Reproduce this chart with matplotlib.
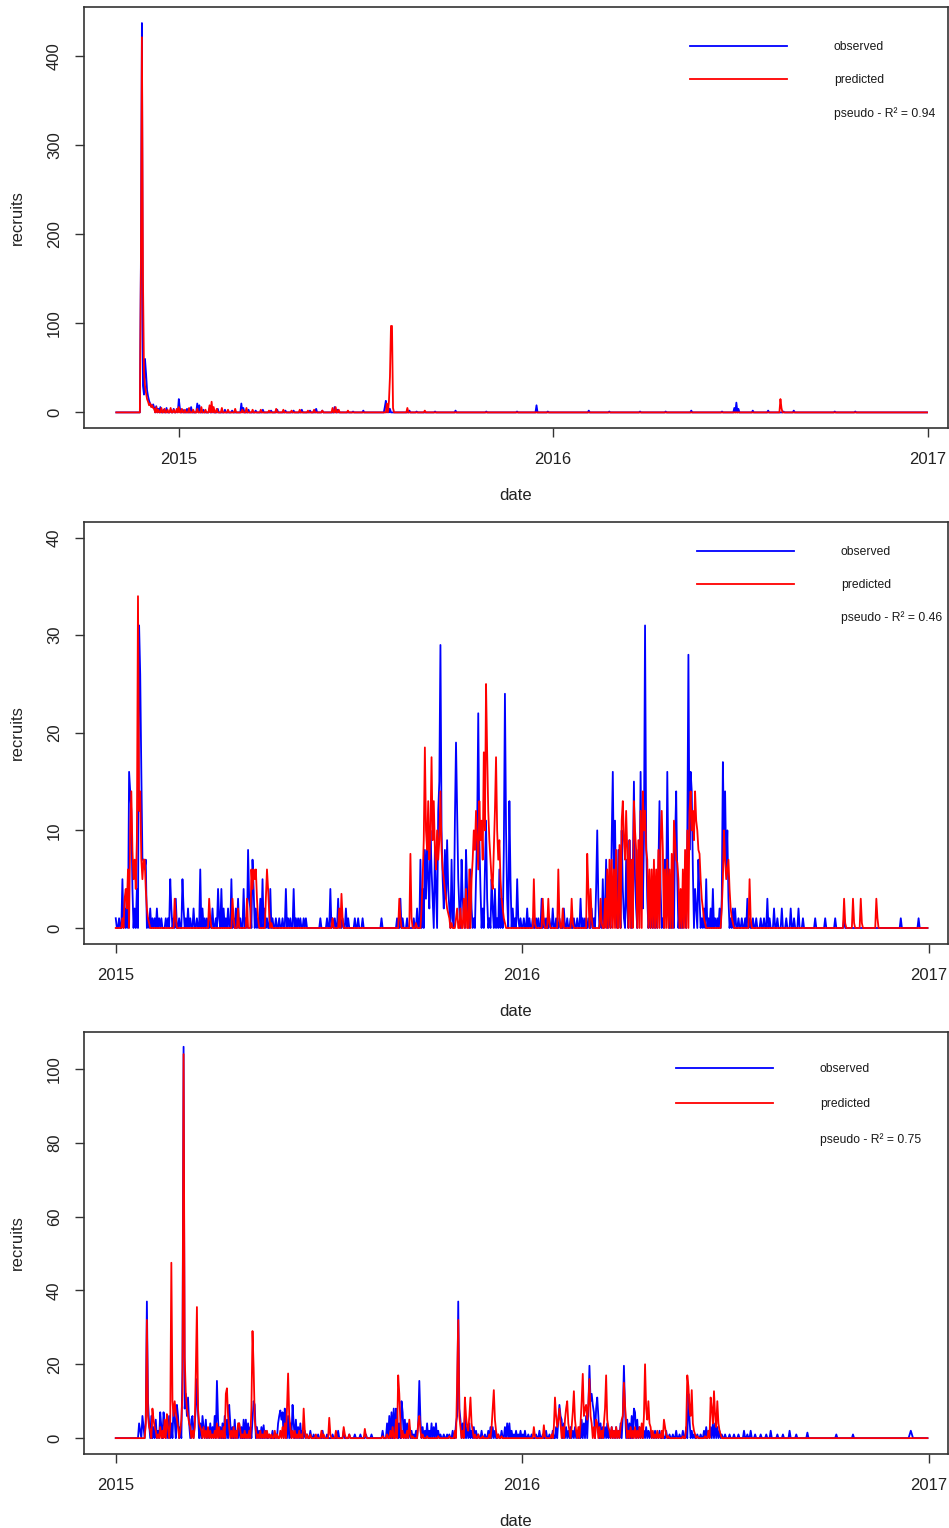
import matplotlib

matplotlib.use("Agg")
import matplotlib.pyplot as plt
import numpy as np
import pandas as pd

plt.rcParams["font.family"] = ["Liberation Sans", "DejaVu Sans"]

# all days are offsets from 2015-01-01, values are daily counts
p1_start = "2014-11-01"
p1_obs = [(-37, 167), (-36, 437), (-35, 30), (-34, 20), (-33, 60), (-32, 44), (-31, 25),
          (-30, 18), (-29, 13), (-28, 10), (-27, 8), (-26, 6), (-25, 9), (-24, 5), (-22, 7),
          (-20, 4), (-18, 6), (-15, 3), (-12, 5), (-8, 3), (-5, 4), (-2, 2), (0, 15), (1, 5),
          (4, 3), (8, 4), (12, 6), (18, 10), (20, 8), (24, 3), (30, 5), (33, 6), (38, 4),
          (45, 3), (52, 2), (61, 10), (63, 5), (68, 3), (75, 2), (82, 3), (90, 2), (96, 3),
          (104, 2), (112, 2), (120, 3), (128, 2), (134, 4), (140, 2), (152, 6), (155, 3),
          (170, 1), (180, 2), (201, 6), (202, 13), (204, 8), (206, 4), (225, 2), (232, 1),
          (250, 1), (270, 2), (300, 1), (330, 1), (349, 8), (360, 1), (400, 2), (420, 1),
          (450, 1), (475, 1), (500, 2), (530, 1), (542, 5), (544, 11), (546, 4), (560, 2),
          (575, 2), (590, 1), (600, 2), (640, 1), (660, 1)]
p1_pred = [(-37, 160), (-36, 421), (-35, 152), (-34, 46), (-33, 30), (-32, 22), (-31, 15),
           (-30, 12), (-29, 8), (-28, 10), (-27, 6), (-26, 8), (-25, 5), (-24, 4), (-22, 6),
           (-20, 3), (-17, 5), (-14, 4), (-11, 3), (-8, 5), (-5, 3), (-2, 4), (0, 6), (3, 4),
           (6, 3), (10, 5), (14, 3), (18, 4), (22, 6), (26, 3), (30, 8), (32, 12), (34, 6),
           (37, 4), (42, 5), (48, 3), (55, 4), (62, 3), (66, 5), (72, 3), (80, 3), (88, 2),
           (95, 4), (102, 3), (110, 2), (118, 3), (126, 2), (132, 3), (140, 2), (150, 5),
           (153, 6), (156, 3), (165, 2), (203, 10), (205, 12), (206, 40), (207, 97), (208, 97),
           (209, 5), (223, 5), (240, 2), (587, 15), (588, 5)]

p2_start = "2015-01-01"
p2_obs = [(0, 1), (3, 1), (6, 5), (8, 2), (10, 4), (12, 16), (13, 14), (14, 12), (15, 4),
          (17, 2), (19, 4), (21, 31), (22, 26), (23, 16), (24, 7), (25, 7), (26, 6), (27, 7),
          (29, 1), (31, 2), (33, 1), (35, 1), (37, 2), (39, 1), (41, 1), (45, 1), (47, 1),
          (49, 5), (50, 2), (52, 1), (54, 3), (57, 1), (60, 5), (61, 2), (63, 1), (65, 2),
          (67, 1), (70, 2), (73, 1), (76, 6), (78, 2), (80, 1), (82, 1), (85, 1), (87, 2),
          (90, 1), (92, 4), (93, 1), (95, 4), (97, 2), (99, 1), (101, 2), (104, 5), (106, 1),
          (108, 2), (110, 3), (112, 1), (115, 4), (117, 1), (119, 8), (120, 3), (121, 2),
          (123, 7), (124, 4), (126, 2), (128, 1), (130, 3), (132, 5), (134, 2), (136, 1),
          (139, 4), (141, 1), (144, 1), (147, 1), (150, 1), (153, 4), (155, 1), (157, 1),
          (160, 4), (162, 1), (164, 1), (166, 1), (169, 1), (171, 1), (184, 1), (190, 1),
          (193, 4), (195, 1), (197, 1), (200, 3), (202, 1), (204, 1), (207, 2), (209, 1),
          (215, 1), (218, 1), (222, 1), (239, 1), (253, 1), (256, 3), (258, 1), (262, 1),
          (268, 1), (271, 2), (274, 7), (276, 4), (278, 8), (279, 3), (280, 9), (281, 5),
          (282, 2), (283, 10), (284, 6), (285, 3), (287, 8), (288, 4), (290, 12), (291, 15),
          (292, 29), (293, 10), (294, 5), (295, 2), (296, 8), (297, 3), (298, 9), (299, 4),
          (300, 2), (302, 7), (303, 1), (305, 11), (306, 19), (307, 12), (308, 5), (309, 2),
          (311, 7), (312, 3), (313, 1), (315, 8), (316, 4), (317, 1), (319, 6), (320, 2),
          (322, 1), (324, 5), (325, 10), (326, 22), (327, 9), (328, 4), (330, 2), (332, 6),
          (333, 11), (334, 3), (336, 1), (338, 5), (339, 2), (341, 4), (343, 1), (345, 6),
          (347, 3), (349, 8), (350, 24), (351, 10), (352, 3), (354, 13), (355, 5), (357, 2),
          (359, 1), (361, 5), (362, 1), (364, 1), (367, 1), (370, 2), (372, 1), (375, 1),
          (378, 1), (380, 1), (383, 3), (385, 1), (387, 1), (390, 1), (393, 2), (396, 1),
          (399, 1), (403, 2), (406, 1), (409, 1), (412, 1), (415, 1), (418, 3), (420, 1),
          (422, 1), (425, 1), (428, 2), (430, 1), (432, 4), (433, 10), (434, 3), (436, 1),
          (438, 5), (440, 2), (441, 7), (443, 3), (444, 1), (446, 9), (447, 16), (448, 5),
          (449, 11), (450, 2), (452, 8), (453, 3), (455, 10), (456, 4), (457, 1), (459, 7),
          (460, 2), (462, 9), (463, 4), (465, 6), (466, 15), (467, 5), (468, 2), (470, 8),
          (471, 3), (472, 16), (473, 6), (474, 2), (475, 9), (476, 31), (477, 9), (478, 3),
          (480, 1), (482, 2), (484, 5), (486, 2), (488, 6), (489, 13), (490, 4), (492, 1),
          (494, 7), (495, 3), (496, 16), (497, 6), (499, 2), (501, 3), (503, 9), (504, 14),
          (505, 5), (507, 2), (509, 1), (511, 4), (512, 1), (514, 9), (515, 28), (516, 8),
          (517, 16), (518, 14), (519, 6), (521, 4), (522, 2), (524, 7), (525, 3), (527, 1),
          (529, 2), (531, 5), (533, 1), (535, 2), (537, 4), (539, 1), (541, 1), (543, 2),
          (545, 3), (546, 17), (547, 9), (548, 14), (549, 6), (550, 10), (551, 3), (553, 1),
          (555, 2), (557, 2), (560, 1), (563, 1), (566, 1), (568, 3), (570, 1), (573, 1),
          (576, 1), (580, 1), (583, 1), (586, 3), (588, 1), (592, 2), (595, 1), (599, 2),
          (603, 1), (607, 2), (610, 1), (614, 2), (618, 1), (629, 1), (638, 1), (647, 1),
          (655, 1), (706, 1), (722, 1)]
p2_pred = [(6, 1), (8, 3), (9, 4), (10, 2), (11, 6), (13, 10), (14, 14), (15, 8), (16, 5),
           (17, 7), (18, 4), (19, 9), (20, 34), (21, 12), (22, 14), (23, 7), (24, 5), (25, 7),
           (26, 7), (27, 4), (28, 2), (29, 1), (30, 0.5), (53, 3), (54, 1), (84, 3), (85, 1),
           (105, 3), (106, 1), (110, 2), (118, 3), (122, 6), (123, 4), (124, 6), (125, 5),
           (126, 6), (127, 3), (128, 1), (135, 3), (136, 6), (137, 4), (138, 1.5), (140, 0.5),
           (195, 1), (201, 2), (203, 3.5), (204, 1), (255, 3), (256, 1), (265, 7.6), (266, 1),
           (270, 0.5), (275, 2), (276, 5), (277, 9), (278, 18.5), (279, 10), (280, 8),
           (281, 13), (282, 7), (283, 10), (284, 17.5), (285, 9), (286, 13), (287, 8), (288, 6),
           (289, 10), (290, 7), (291, 9), (292, 14), (293, 8), (294, 6), (295, 5), (296, 4),
           (297, 3), (298, 2), (299, 1.5), (300, 1), (302, 0.5), (306, 1), (307, 2), (310, 2),
           (313, 3), (315, 4), (318, 6), (320, 5), (321, 7), (322, 10), (323, 8), (324, 12),
           (325, 9), (326, 6), (327, 13), (328, 9), (329, 11), (330, 7), (331, 18), (332, 10),
           (333, 25), (334, 18), (335, 12), (336, 9), (337, 7), (338, 5), (339, 4), (340, 8),
           (341, 12), (342, 17.5), (343, 10), (344, 7), (345, 9), (346, 5), (347, 3), (348, 2),
           (349, 1), (350, 0.5), (376, 5), (377, 0.5), (384, 3), (385, 0.5), (389, 3),
           (390, 0.5), (398, 6), (399, 1), (402, 2), (410, 3), (411, 0.5), (424, 7.6), (425, 4),
           (427, 4), (428, 1), (436, 3), (437, 0.5), (440, 3), (442, 6), (444, 7), (446, 7),
           (448, 6), (450, 8), (453, 8.5), (455, 11), (456, 13), (457, 9), (458, 7), (459, 12),
           (460, 8), (462, 9), (464, 7), (466, 13), (467, 10), (468, 8), (470, 9), (472, 12),
           (474, 14), (475, 10), (476, 12), (477, 8), (478, 7), (480, 6), (482, 6), (484, 7),
           (486, 6), (488, 8), (490, 9), (491, 12), (492, 8), (494, 6), (496, 7), (498, 6),
           (500, 7.6), (502, 11), (503, 9), (504, 7), (505, 6.7), (506, 5), (508, 4), (510, 6),
           (512, 8), (514, 10), (516, 12), (517, 14), (518, 10), (519, 12), (520, 9),
           (521, 14), (522, 11), (523, 10), (524, 8), (525, 7.6), (526, 5), (527, 3), (528, 2),
           (529, 1), (530, 0.5), (545, 2), (546, 5), (547, 10), (548, 7), (549, 5), (550, 6),
           (551, 7), (552, 4), (553, 2), (554, 1), (555, 0.5), (570, 5), (571, 1), (655, 3),
           (656, 0.5), (663, 3), (664, 0.5), (670, 3), (671, 0.5), (684, 3), (685, 1)]

p3_start = "2015-01-01"
p3_obs = [(21, 4), (22, 2), (24, 6), (25, 3), (27, 5), (28, 37), (29, 10), (30, 4), (32, 6),
          (34, 3), (36, 5), (38, 2), (40, 7), (41, 3), (43, 7), (44, 4), (46, 3), (48, 6),
          (50, 4), (52, 9), (53, 5), (55, 9), (56, 6), (58, 3), (60, 19), (61, 106), (62, 8),
          (63, 12), (64, 6), (65, 11), (66, 4), (68, 5), (69, 6), (71, 4), (72, 8), (73, 16),
          (74, 7), (76, 4), (78, 6), (79, 3), (81, 5), (83, 2), (85, 4), (87, 3), (89, 6),
          (91, 15.5), (92, 5), (94, 3), (96, 4), (98, 6), (100, 5), (102, 9), (103, 4), (105, 3),
          (107, 5), (109, 2), (111, 4), (113, 3), (115, 5), (117, 5), (119, 4), (121, 3),
          (123, 5), (124, 10), (125, 9), (127, 3), (129, 2), (131, 3), (133, 3.5), (135, 2),
          (138, 1), (141, 2), (144, 1), (146, 4), (147, 6), (148, 7.5), (149, 5), (150, 7),
          (152, 8), (153, 5), (155, 6), (157, 4), (159, 9), (160, 4), (162, 5), (164, 3),
          (166, 4), (168, 2), (170, 2), (172, 1), (175, 2), (178, 1), (182, 1), (186, 2),
          (190, 1), (195, 1), (200, 2), (205, 2), (210, 1), (215, 1), (220, 1), (225, 1),
          (230, 1), (240, 2), (244, 4), (246, 6), (248, 7), (250, 8), (252, 8), (253, 7),
          (255, 4), (257, 10), (258, 7), (260, 5), (262, 4), (264, 3), (266, 2), (268, 1),
          (270, 2), (272, 4), (273, 15.5), (274, 5), (276, 3), (278, 2), (280, 4), (282, 2),
          (284, 4), (286, 3), (288, 4), (290, 2), (292, 1), (295, 1), (298, 1), (300, 1),
          (303, 2), (306, 4), (307, 6), (308, 37), (309, 8), (310, 5), (312, 4), (314, 6),
          (316, 3), (318, 4), (320, 2), (322, 3), (324, 2), (326, 1), (329, 2), (332, 1),
          (335, 2), (337, 3), (339, 3), (341, 2), (344, 1), (347, 2), (350, 3), (352, 4),
          (354, 4), (356, 2), (358, 1), (360, 2), (362, 1), (364, 2), (366, 1), (368, 2),
          (371, 1), (374, 1), (378, 1), (381, 2), (384, 1), (387, 2), (390, 1), (393, 2),
          (396, 3), (398, 5), (399, 9), (400, 6), (401, 5), (403, 4), (405, 3), (407, 2),
          (409, 3), (411, 2), (413, 3), (415, 2), (417, 3), (419, 5), (421, 4), (423, 6),
          (425, 8), (426, 19.6), (427, 10), (428, 12), (429, 9), (430, 7), (432, 8), (433, 11),
          (434, 6), (436, 4), (438, 3), (440, 3), (442, 4), (444, 2), (446, 3), (448, 2),
          (450, 3), (452, 2), (454, 4), (456, 6), (457, 19.6), (458, 8), (460, 5), (462, 4),
          (464, 6), (466, 8), (467, 7), (469, 5), (471, 3), (473, 2), (475, 2), (477, 3),
          (479, 2), (481, 2), (483, 1), (485, 2), (487, 1), (489, 2), (492, 1), (495, 2),
          (498, 1), (501, 1), (504, 2), (507, 1), (510, 2), (513, 3), (515, 12), (516, 5),
          (518, 2), (520, 1), (523, 1), (526, 1), (529, 2), (531, 3), (533, 2), (535, 3),
          (537, 4), (539, 4), (541, 3), (543, 2), (545, 1), (548, 1), (552, 1), (556, 1),
          (560, 1), (565, 2), (568, 1), (571, 2), (575, 1), (580, 1), (585, 1), (589, 2),
          (595, 1), (600, 1), (606, 2), (612, 1), (622, 1.5), (648, 1), (663, 1), (714, 1),
          (715, 2), (716, 1)]
p3_pred = [(27, 4), (28, 32), (29, 6), (30, 3), (31, 2), (33, 8), (34, 5), (35, 3), (36, 2),
           (38, 1), (40, 3), (42, 2), (44, 5), (46, 6.5), (47, 3), (49, 4), (50, 47.5), (51, 10),
           (52, 6), (53, 10), (54, 7), (55, 5), (56, 3), (58, 2), (59, 5), (60, 12), (61, 104),
           (62, 22), (63, 12), (64, 8), (65, 6), (66, 4), (67, 3), (69, 2), (71, 3), (72, 18),
           (73, 35.5), (74, 8), (75, 4), (76, 3), (77, 2), (79, 3), (81, 2), (83, 3), (85, 2),
           (87, 1), (89, 2), (91, 4), (93, 3), (95, 2), (97, 3), (99, 12), (100, 13.5), (101, 6),
           (102, 3), (104, 2), (106, 3), (108, 2), (110, 4), (111, 4), (112, 2), (114, 1),
           (116, 2), (118, 1), (120, 2), (122, 8), (123, 29), (124, 19), (125, 5), (126, 2),
           (128, 1), (130, 2), (132, 1), (134, 2), (136, 2), (138, 1), (140, 1), (143, 2),
           (145, 1), (148, 2), (150, 3), (152, 4), (154, 8), (155, 17.5), (156, 6), (157, 3),
           (159, 2), (161, 2), (163, 1), (165, 2), (167, 1), (169, 8), (170, 2), (172, 1),
           (175, 1), (180, 1), (185, 2), (187, 1), (192, 5.5), (193, 1), (198, 2), (205, 3),
           (206, 1), (210, 1), (224, 2.5), (225, 0.5), (240, 0.5), (244, 1), (247, 2), (249, 3),
           (252, 5), (254, 17), (255, 12), (256, 4), (258, 2), (260, 1), (262, 2), (264, 5),
           (265, 1), (267, 0.5), (272, 4), (273, 6), (274, 2), (276, 1), (280, 0.5), (290, 0.5),
           (300, 0.5), (305, 2), (307, 15), (308, 32), (309, 6), (310, 3), (312, 2), (314, 11),
           (315, 6), (316, 3), (317, 2), (318, 6), (319, 11), (320, 4), (321, 2), (323, 1),
           (326, 1), (330, 0.5), (336, 1), (338, 3), (339, 8), (340, 13), (341, 5), (342, 2),
           (344, 1), (347, 0.5), (376, 3), (377, 0.5), (385, 3.5), (386, 0.5), (392, 1),
           (394, 3), (395, 11), (396, 6), (397, 3), (398, 5), (399, 8), (400, 4), (402, 3),
           (404, 5), (405, 8), (406, 10), (407, 4), (408, 2), (410, 3), (411, 7), (412, 12.7),
           (413, 5), (414, 2), (416, 3), (418, 4), (419, 10), (420, 17.4), (421, 6), (422, 8),
           (423, 9), (424, 5), (425, 9), (426, 16), (427, 6), (428, 4), (430, 3), (432, 5),
           (433, 4), (435, 3), (437, 2), (439, 4), (440, 8), (441, 17), (442, 5), (443, 3),
           (444, 2), (446, 3), (448, 2), (450, 3), (452, 2), (454, 3), (455, 5), (456, 6),
           (457, 15), (458, 9), (459, 4), (461, 2), (463, 3), (465, 2), (467, 3), (469, 2),
           (471, 3), (473, 4), (475, 6), (476, 20), (477, 8), (478, 5), (479, 10), (480, 4),
           (481, 3), (483, 2), (485, 1), (487, 2), (489, 1), (491, 2), (493, 5), (494, 3),
           (495, 1), (497, 0.5), (510, 0.5), (513, 3), (514, 17), (515, 14), (516, 8), (517, 6),
           (518, 13), (519, 4), (520, 2), (521, 1), (523, 0.5), (530, 0.5), (533, 2), (535, 11),
           (536, 8), (537, 4), (538, 12.7), (539, 6), (540, 3), (541, 10), (542, 4), (543, 2),
           (544, 1)]

r2_labels = ["pseudo - R\u00b2 = 0.94", "pseudo - R\u00b2 = 0.46", "pseudo - R\u00b2 = 0.75"]
year_ticks = ["2015-01-01", "2016-01-01", "2017-01-01"]
year_labels = ["2015", "2016", "2017"]

INK = "#333333"
BASE_DAY = pd.Timestamp("2015-01-01")


def daily_series(start, pairs):
    days = pd.date_range(start, "2016-12-31", freq="D")
    values = np.zeros(len(days))
    for offset, value in pairs:
        values[(BASE_DAY + pd.Timedelta(days=offset) - days[0]).days] = value
    return days, values


def draw_panel(axis, start, obs, pred, r2_text, yticks, ylim, xlim, legend_anchor, spacing):
    days, obs_values = daily_series(start, obs)
    _, pred_values = daily_series(start, pred)
    axis.plot(days, obs_values, color="#0000ff", lw=1.3, label="observed")
    axis.plot(days, pred_values, color="#ff0000", lw=1.3, label="predicted")
    axis.plot([], [], color="none", label=r2_text)

    axis.set_xlim(pd.Timestamp(xlim[0]), pd.Timestamp(xlim[1]))
    axis.set_ylim(*ylim)
    axis.set_xticks([pd.Timestamp(t) for t in year_ticks])
    axis.set_xticklabels(year_labels)
    axis.set_yticks(yticks)
    axis.set_yticklabels([str(v) for v in yticks], rotation=90, va="center")
    axis.tick_params(axis="both", direction="out", length=6.5, width=1.0, color=INK,
                     labelsize=12, labelcolor="#222222")
    axis.tick_params(axis="x", pad=10.5)
    axis.tick_params(axis="y", pad=9)
    for spine in axis.spines.values():
        spine.set_color(INK)
        spine.set_linewidth(1.2)
    axis.set_xlabel("date", fontsize=12, color="#222222", labelpad=15.5)
    axis.set_ylabel("recruits", fontsize=12, color="#222222", labelpad=16)

    legend = axis.legend(loc="upper left", bbox_to_anchor=legend_anchor, frameon=False,
                         fontsize=8.7, handlelength=8.0, handletextpad=3.9,
                         labelspacing=spacing, borderpad=0, borderaxespad=0)
    for text in legend.get_texts():
        text.set_color("#1a1a1a")


fig = plt.figure(figsize=(9.49, 15.28), dpi=100)
left, width = 83.5 / 949, 864 / 949

ax1 = fig.add_axes([left, 1 - 428 / 1528, width, 421 / 1528])
draw_panel(ax1, p1_start, p1_obs, p1_pred, r2_labels[0], [0, 100, 200, 300, 400],
           (-17.5, 455), ("2014-09-30", "2017-01-20"), (0.702, 1 - 34 / 421), 1.75)

ax2 = fig.add_axes([left, 1 - 944 / 1528, width, 422 / 1528])
draw_panel(ax2, p2_start, p2_obs, p2_pred, r2_labels[1], [0, 10, 20, 30, 40],
           (-1.64, 41.6), ("2014-12-03", "2017-01-18"), (0.710, 1 - 24 / 422), 1.72)

ax3 = fig.add_axes([left, 1 - 1454 / 1528, width, 422 / 1528])
draw_panel(ax3, p3_start, p3_obs, p3_pred, r2_labels[2], [0, 20, 40, 60, 80, 100],
           (-4.3, 110.0), ("2014-12-03", "2017-01-18"), (0.686, 1 - 31 / 422), 1.92)

fig.savefig("out.png", dpi=100)
